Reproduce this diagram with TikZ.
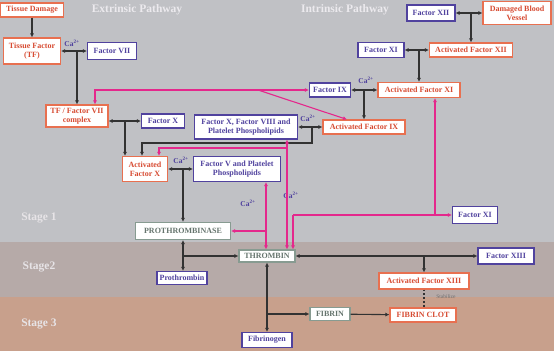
\documentclass[tikz,border=0pt]{standalone}
\usepackage{fontspec}
\setmainfont{Liberation Serif}
\usepackage{tikz}
\usetikzlibrary{arrows.meta, calc}
\definecolor{CCRed}{RGB}{215,75,50}
\definecolor{CCOrange}{RGB}{232,112,80}
\definecolor{CCBlue}{RGB}{80,66,158}
\definecolor{CCSage}{RGB}{135,155,145}
\definecolor{CCPink}{RGB}{228,40,140}
\definecolor{CCLine}{RGB}{50,50,50}
\definecolor{CCTop}{RGB}{192,193,197}
\definecolor{CCMid}{RGB}{182,170,168}
\definecolor{CCLow}{RGB}{200,160,140}
\definecolor{CCPale}{RGB}{236,234,238}

\begin{document}
\begin{tikzpicture}[x=1pt, y=-1pt, >={Latex[length=4pt,width=4pt]},
    box/.style={draw, fill=white, line width=1.1pt, inner sep=1pt, align=center,
      font=\fontsize{8}{9}\selectfont\bfseries},
    act/.style={box, draw=CCOrange, text=CCRed},
    fac/.style={box, draw=CCBlue, text=CCBlue},
    prod/.style={box, draw=CCSage, text=CCSage!75!black},
    blk/.style={CCLine, line width=1.1pt},
    pnk/.style={CCPink, line width=1.1pt},
    ca/.style={text=CCBlue, font=\fontsize{7.5}{8}\selectfont\bfseries, inner sep=0pt},
    title/.style={text=CCPale, font=\fontsize{11.5}{12}\selectfont\bfseries}]
  \useasboundingbox (0,0) rectangle (554,351);
  % Stage bands
  \fill[CCTop] (0,0) rectangle (554,242);
  \fill[CCMid] (0,242) rectangle (554,297);
  \fill[CCLow] (0,297) rectangle (554,351);
  \foreach \n/\sy/\txt in {s1/218/Stage 1, s2/267/Stage2, s3/324/Stage 3}
    \node[title, text=CCPale!90!CCMid] (\n) at (39,\sy) {\txt};
  \node[title] (extr) at (137,10) {Extrinsic Pathway};
  \node[title] (intr) at (345,10) {Intrinsic Pathway};

  % Extrinsic pathway
  \node[act, minimum width=63pt, minimum height=14pt] (dmg) at (32,10) {Tissue Damage};
  \node[act, minimum width=57pt, minimum height=26pt] (tf) at (32,51) {Tissue Factor\\(TF)};
  \node[fac, minimum width=49pt, minimum height=17pt] (f7) at (112,51) {Factor VII};
  \node[act, minimum width=62pt, minimum height=22pt] (tfc) at (77,116) {TF / Factor VII\\complex};
  \node[fac, minimum width=43pt, minimum height=14pt] (fx) at (163,121) {Factor X};
  \node[fac, minimum width=103pt, minimum height=24pt] (fx8) at (246,127) {Factor X, Factor VIII and\\Platelet Phospholipids};
  \node[act, minimum width=45pt, minimum height=25pt] (afx) at (145,169) {Activated\\Factor X};
  \node[fac, minimum width=87pt, minimum height=25pt] (fv) at (237,169) {Factor V and Platelet\\Phospholipids};

  % Intrinsic pathway
  \node[fac, minimum width=48pt, minimum height=16pt] (f12) at (431,13) {Factor XII};
  \node[act, minimum width=68pt, minimum height=23pt] (dbv) at (517,13) {Damaged Blood\\Vessel};
  \node[act, minimum width=83pt, minimum height=14pt] (af12) at (471,50) {Activated Factor XII};
  \node[fac, minimum width=46pt, minimum height=15pt] (f11) at (381,50) {Factor XI};
  \node[act, minimum width=82pt, minimum height=15pt] (af11) at (419,90) {Activated Factor XI};
  \node[fac, minimum width=41pt, minimum height=14pt] (f9) at (330,90) {Factor IX};
  \node[act, minimum width=82pt, minimum height=14pt] (af9) at (364,127) {Activated Factor IX};

  % Common pathway
  \node[prod, minimum width=95pt, minimum height=17pt] (ptase) at (183,231) {PROTHROMBINASE};
  \node[fac, minimum width=50pt, minimum height=13pt] (pthr) at (182,278) {Prothrombin};
  \node[prod, minimum width=56pt, minimum height=12pt] (thr) at (267,256) {THROMBIN};
  \node[fac, minimum width=45pt, minimum height=17pt] (f11b) at (475,215) {Factor XI};
  \node[fac, minimum width=56pt, minimum height=16pt] (f13) at (506,256) {Factor XIII};
  \node[act, minimum width=90pt, minimum height=16pt] (af13) at (424,281) {Activated Factor XIII};
  \node[prod, minimum width=40pt, minimum height=13pt] (fbn) at (330,314) {FIBRIN};
  \node[act, minimum width=66pt, minimum height=14pt] (clot) at (423,315) {FIBRIN CLOT};
  \node[fac, minimum width=50pt, minimum height=15pt] (fbg) at (267,340) {Fibrinogen};

  % Calcium labels
  \foreach \n/\cx/\cy in {a/72/43, b/366/80, c/308/118, d/181/160, e/248/203, f/291/195}
    \node[ca] (ca\n) at (\cx,\cy) {Ca\textsuperscript{2+}};

  % Black reactions
  \draw[blk,->] (dmg) -- (tf);
  \draw[blk,<->] (tf) -- (f7);
  \draw[blk,->] (tfc |- tf) -- (tfc);
  \draw[blk,<->] (tfc.east |- fx) -- (fx);
  \coordinate (j1) at (125,121);
  \draw[blk,->] (j1) -- (j1 |- afx.north);
  \draw[blk,<->] (fx8) -- (af9);
  \coordinate (j2) at (312,127);
  \coordinate (j3) at (142,143);
  \draw[blk,->] (j2) |- (j3) -- (j3 |- afx.north);
  \draw[blk,<->] (f12) -- (dbv);
  \draw[blk,->] (af12 |- f12) -- (af12);
  \draw[blk,<->] (f11) -- (af12);
  \draw[blk,->] (af11 |- f11) -- (af11);
  \draw[blk,<->] (f9) -- (af11);
  \draw[blk,->] (af9 |- f9) -- (af9);
  \draw[blk,<->] (afx) -- (fv);
  \draw[blk,->] (ptase |- afx) -- (ptase);
  \draw[blk,<->] (ptase) -- (ptase |- pthr.north);
  \draw[blk,->] (ptase |- thr) -- (thr);
  \draw[blk,<->] (thr) -- (f13);
  \draw[blk,->] (af13 |- thr) -- (af13);
  \draw[blk,<->] (thr) -- (fbg);
  \draw[blk,->] (thr |- fbn) -- (fbn);
  \draw[blk,->] (fbn) -- (clot);
  \draw[CCLine, line width=1.8pt, dotted] (af13.south) -- (af13.south |- clot.north);
  \node[text=CCLine!70, font=\fontsize{5.5}{6}\selectfont, inner sep=0pt] (stab) at (446,297) {Stabilize};

  % Pink feedback lines
  \draw[pnk,<->] ([xshift=18pt]tfc.north) |- (f9.west);
  \coordinate (pd) at (258,90);
  \draw[pnk,->] (pd) -- ([xshift=-17pt]af9.north);
  \draw[pnk,<->] ([xshift=-1pt]thr.north) -- ([xshift=-1pt]thr.north |- fv.south);
  \draw[pnk,->] ([xshift=-1pt]thr.north |- ptase) -- (ptase);
  \coordinate (p2) at (287,148);
  \draw[pnk,<->] (thr.north -| p2) -- (fx8.south -| p2);
  \draw[pnk,->] (p2) -| ([xshift=14pt]afx.north);
  \coordinate (p3) at (293,215);
  \coordinate (p4) at (435,215);
  \draw[pnk,->] (p3) -- (thr.north -| p3);
  \draw[pnk,->] (p3) -- (f11b);
  \draw[pnk,->] (p4) -- (af11.south -| p4);
\end{tikzpicture}
\end{document}
